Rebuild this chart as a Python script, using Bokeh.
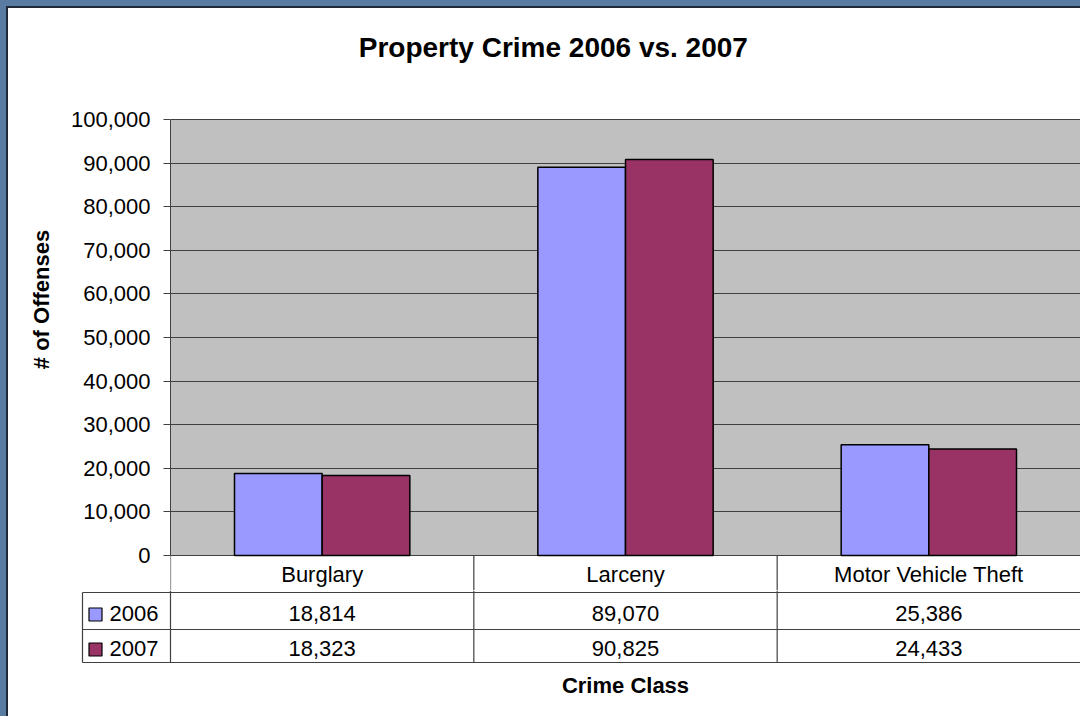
from bokeh.plotting import figure
from bokeh.layouts import column
from bokeh.models import Range1d, FixedTicker, NumeralTickFormatter
from bokeh.core.properties import value
from bokeh.embed import file_html
from bokeh.resources import INLINE

# ---- data ----
categories = ["Burglary", "Larceny", "Motor Vehicle Theft"]
years = ["2006", "2007"]
offenses_2006 = [18814, 89070, 25386]
offenses_2007 = [18323, 90825, 24433]
y_ticks = [0, 10000, 20000, 30000, 40000, 50000, 60000, 70000, 80000, 90000, 100000]
title_text = "Property Crime 2006 vs. 2007"
y_label = "# of Offenses"
x_label = "Crime Class"

colors = ["#9999FF", "#993366"]
FONT = "Liberation Sans"
OFF = 8                # outer frame (blue band + dark line) thickness
W = 1080 - OFF
SPLIT = 590            # page row where the table body figure starts
TOP_H = SPLIT - OFF
BOT_H = 716 - SPLIT
BAR_W = 0.289
LINE_C = "#404040"
CAT_PX = 303.33        # pixel width of one category column

# layout helpers (page pixel -> data) for the top chart
Y0_PX = 555.0          # page row of value 0
PX_PER_UNIT = 436.0 / 100000.0


def ydata(px):
    return (Y0_PX - px) / PX_PER_UNIT


def base(px, fs):
    # compensate the renderer's baseline shift for a font size fs
    return px - 0.37 * fs


# ---- top chart ----
top = figure(width=W, height=TOP_H, output_backend="svg", toolbar_location=None,
             x_range=Range1d(0, 3), y_range=Range1d(ydata(SPLIT), ydata(OFF)),
             x_axis_location=None, y_axis_location="left",
             min_border_left=170 - OFF, min_border_right=0, min_border_top=0,
             min_border_bottom=0,
             background_fill_color="white", border_fill_color="white",
             outline_line_color=None, frame_align=False)
top.xgrid.visible = False

idx = list(range(len(categories)))
# gray plot area
top.quad(left=[0], right=[len(categories)], bottom=[y_ticks[0]], top=[y_ticks[-1]],
         fill_color="#C0C0C0", line_color=None, level="image")

x06 = [i + 0.5 - BAR_W / 2 for i in idx]
x07 = [i + 0.5 + BAR_W / 2 for i in idx]
top.vbar(x=x06, top=offenses_2006, bottom=0, width=BAR_W,
         fill_color=colors[0], line_color="black", line_width=1.5)
top.vbar(x=x07, top=offenses_2007, bottom=0, width=BAR_W,
         fill_color=colors[1], line_color="black", line_width=1.5)

yax = top.yaxis[0]
yax.ticker = FixedTicker(ticks=y_ticks)
yax.formatter = NumeralTickFormatter(format="0,0")
yax.bounds = (y_ticks[0], y_ticks[-1])
yax.major_tick_out = 7
yax.major_tick_in = 0
yax.minor_tick_line_color = None
yax.axis_line_color = LINE_C
yax.major_tick_line_color = LINE_C
yax.major_label_standoff = 13
yax.major_label_text_font = FONT
yax.major_label_text_font_size = "22px"
yax.major_label_text_color = "black"
yax.axis_label = y_label
yax.axis_label_text_font = FONT
yax.axis_label_text_font_size = "22px"
yax.axis_label_text_font_style = "bold"
yax.axis_label_text_color = "black"
yax.axis_label_standoff = 14

top.ygrid.grid_line_color = LINE_C
top.ygrid.grid_line_width = 1.2

top.text(x=[1.262], y=[ydata(base(57, 28))], text=[title_text], text_align="center",
         text_baseline="alphabetic", text_font=value(FONT), text_font_size="28px",
         text_font_style="bold", text_color="black")

# header row of the data table (category names)
top.segment(x0=[0, 1, 2], y0=[0, 0, 0], x1=[0, 1, 2], y1=[ydata(SPLIT)] * 3,
            line_color=LINE_C, line_width=1.2)
cx = [i + 0.5 for i in idx]
top.text(x=cx, y=[ydata(base(582, 22))] * 3, text=categories, text_align="center",
         text_baseline="alphabetic", text_font=value(FONT), text_font_size="22px",
         text_color="black")

# ---- data table body ----
bot = figure(width=W, height=BOT_H, output_backend="svg", toolbar_location=None,
             x_range=Range1d(-90 / CAT_PX, 3), y_range=Range1d(start=BOT_H, end=0),
             x_axis_location=None, y_axis_location=None,
             min_border_left=80 - OFF, min_border_right=0, min_border_top=0,
             min_border_bottom=0,
             background_fill_color="white", border_fill_color="white",
             outline_line_color=None, frame_align=False)
bot.grid.visible = False

LEG_X = -88 / CAT_PX
ROW_LINES = [2, 39, 72]
# vertical lines
bot.segment(x0=[0, 1, 2], y0=[0, 0, 0], x1=[0, 1, 2], y1=[ROW_LINES[-1]] * 3,
            line_color=LINE_C, line_width=1.2)
bot.segment(x0=[LEG_X], y0=[ROW_LINES[0]], x1=[LEG_X], y1=[ROW_LINES[-1]],
            line_color=LINE_C, line_width=1.2)
# horizontal lines
bot.segment(x0=[LEG_X] * 3, y0=ROW_LINES, x1=[3] * 3, y1=ROW_LINES,
            line_color=LINE_C, line_width=1.2)

bot.text(x=cx, y=[base(31, 22)] * 3, text=[f"{v:,}" for v in offenses_2006],
         text_align="center", text_baseline="alphabetic", text_font=value(FONT),
         text_font_size="22px", text_color="black")
bot.text(x=cx, y=[base(66, 22)] * 3, text=[f"{v:,}" for v in offenses_2007],
         text_align="center", text_baseline="alphabetic", text_font=value(FONT),
         text_font_size="22px", text_color="black")
# legend keys
bot.scatter(x=[-75 / CAT_PX] * 2, y=[24, 59], marker="square", size=13,
            fill_color=colors, line_color="black", line_width=1.2)
bot.text(x=[-61 / CAT_PX] * 2, y=[base(31, 22), base(66, 22)], text=years, text_align="left",
         text_baseline="alphabetic", text_font=value(FONT), text_font_size="22px",
         text_color="black")

bot.text(x=[1.5], y=[base(103, 22)], text=[x_label], text_align="center",
         text_baseline="alphabetic", text_font=value(FONT), text_font_size="22px",
         text_font_style="bold", text_color="black")

layout = column(top, bot, spacing=0,
                styles={"border-top": "6px solid #5a7ba2",
                        "border-left": "6px solid #5a7ba2",
                        "padding-top": "2px", "padding-left": "2px",
                        "background-color": "white",
                        "box-shadow": "inset 2px 2px 0 0 #1e2a38"})
open("out.html", "w").write(file_html(layout, INLINE))
